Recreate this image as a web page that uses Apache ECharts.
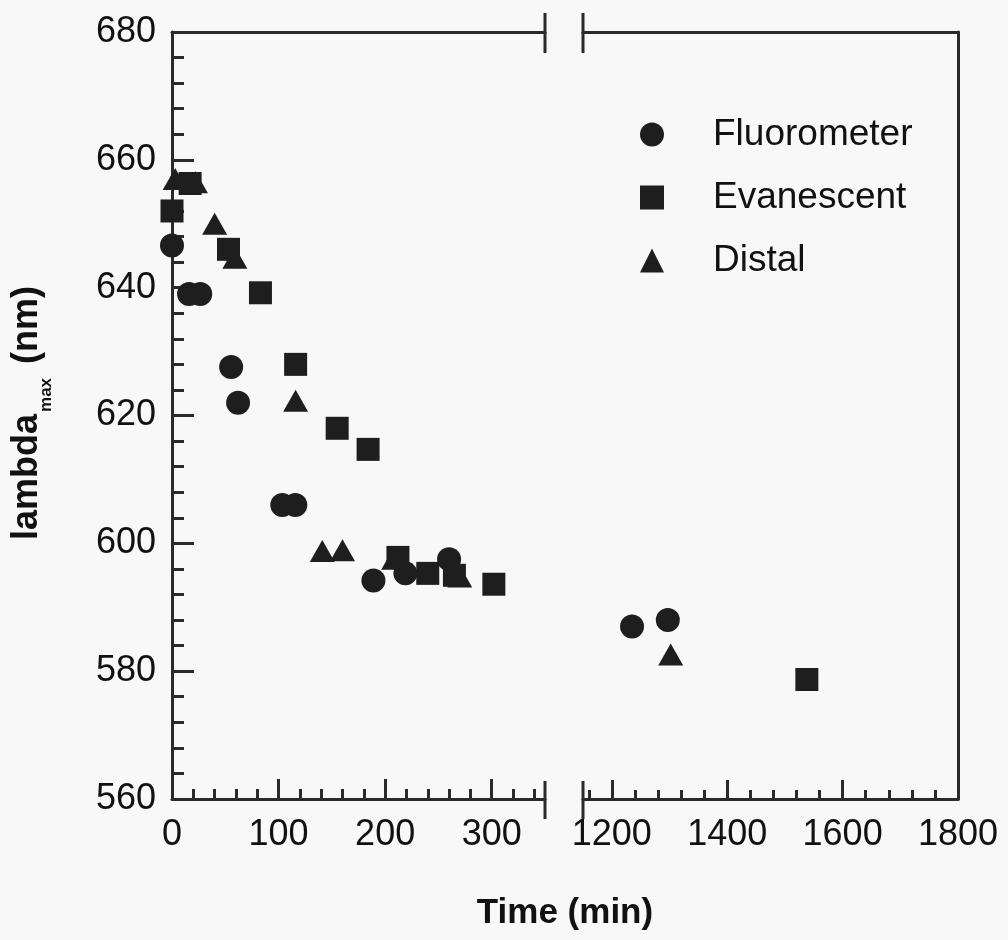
<!DOCTYPE html>
<html>
<head>
<meta charset="utf-8">
<script src="https://cdn.jsdelivr.net/npm/echarts@6/dist/echarts.min.js"></script>
<style>
html,body{margin:0;padding:0;background:#f8f8f8;}
#chart{width:1008px;height:940px;}
</style>
</head>
<body>
<div id="chart"></div>
<script>
// ---- data (Time in min, lambda_max in nm) ----
const seriesNames = ['Fluorometer', 'Evanescent', 'Distal'];
const fluorometer = [
  [0, 646.6], [16, 639], [26.5, 639], [55.5, 627.6], [62, 622],
  [103.5, 606], [115.7, 606], [189, 594.2], [219, 595.3], [260, 597.5],
  [1235, 587], [1297, 588]
];
const evanescent = [
  [0, 652], [17, 656.3], [53, 646], [83, 639.2], [116, 628],
  [155, 618], [184, 614.7], [212, 597.8], [240, 595.3], [265, 595],
  [302, 593.6], [1538, 578.7]
];
const distal = [
  [3, 657], [22, 656.5], [40, 650], [59, 644.7], [116, 622.3],
  [141, 598.8], [160, 598.9], [208, 597.6], [270, 594.8], [1302, 582.6]
];
const yTicks = [560, 580, 600, 620, 640, 660, 680];
const leftMajor = [0, 100, 200, 300];
const leftMinor = [20, 40, 60, 80, 120, 140, 160, 180, 220, 240, 260, 280, 320, 340];
const rightMajor = [1200, 1400, 1600];
const rightLabels = [1200, 1400, 1600, 1800];
const rightMinor = [1160, 1240, 1280, 1320, 1360, 1440, 1480, 1520, 1560, 1640, 1680, 1720, 1760];
const leftRange = [0, 350];
const rightRange = [1150, 1800];
const yRange = [560, 680];
const BREAK_X = 1000;

// ---- layout ----
const TOP = 32, BOTTOM = 799;
const G0L = 172, G0R = 545, G1L = 583, G1R = 958;
const INK = '#1e1e1e';
const AX = '#2a2a2a';
const FONT = '"Liberation Sans", Arial, sans-serif';

const chart = echarts.init(document.getElementById('chart'));

const lineStyle = {color: AX, width: 3};
const plain = function (v) { return String(v); };
function xAxisBase(grid, range, pos) {
  return {
    type: 'value', gridIndex: grid, min: range[0], max: range[1], position: pos,
    splitLine: {show: false}, axisLine: {show: false, lineStyle: lineStyle},
    axisTick: {show: false}, axisLabel: {show: false}
  };
}
const xAxes = [];
// grid 0 bottom major + labels
let a = xAxisBase(0, leftRange, 'bottom');
a.axisLine.show = true;
a.axisTick = {show: true, inside: true, length: 20, lineStyle: lineStyle, customValues: leftMajor};
a.axisLabel = {show: true, customValues: leftMajor, formatter: plain, fontSize: 36, color: '#111', fontFamily: FONT, margin: 18};
xAxes.push(a);
// grid 0 minor
a = xAxisBase(0, leftRange, 'bottom');
a.axisTick = {show: true, inside: true, length: 10, lineStyle: lineStyle, customValues: leftMinor};
xAxes.push(a);
// grid 0 top border
a = xAxisBase(0, leftRange, 'top');
a.axisLine.show = true;
xAxes.push(a);
// grid 1 bottom major + labels
a = xAxisBase(1, rightRange, 'bottom');
a.axisLine.show = true;
a.axisTick = {show: true, inside: true, length: 19, lineStyle: lineStyle, customValues: rightMajor};
a.axisLabel = {show: true, customValues: rightLabels, formatter: plain, fontSize: 36, color: '#111', fontFamily: FONT, margin: 18};
xAxes.push(a);
// grid 1 minor
a = xAxisBase(1, rightRange, 'bottom');
a.axisTick = {show: true, inside: true, length: 9, lineStyle: lineStyle, customValues: rightMinor};
xAxes.push(a);
// grid 1 top border
a = xAxisBase(1, rightRange, 'top');
a.axisLine.show = true;
xAxes.push(a);

const yAxes = [
  {
    type: 'value', gridIndex: 0, min: yRange[0], max: yRange[1], interval: 20, position: 'left',
    splitLine: {show: false},
    axisLine: {show: true, lineStyle: lineStyle},
    axisTick: {show: true, inside: true, length: 22, lineStyle: lineStyle},
    minorTick: {show: true, splitNumber: 5, length: 12, lineStyle: lineStyle},
    axisLabel: {fontSize: 36, color: '#111', fontFamily: FONT, margin: 16, formatter: plain, padding: [0, 0, 10, 0]}
  },
  {
    type: 'value', gridIndex: 1, min: yRange[0], max: yRange[1], interval: 20, position: 'right',
    splitLine: {show: false},
    axisLine: {show: true, lineStyle: lineStyle},
    axisTick: {show: false}, axisLabel: {show: false}
  }
];

const symbols = {Fluorometer: ['circle', 24], Evanescent: ['rect', 23], Distal: ['triangle', [25, 22]]};
const allData = {Fluorometer: fluorometer, Evanescent: evanescent, Distal: distal};
const series = [];
seriesNames.forEach(function (name) {
  const d = allData[name];
  const left = d.filter(p => p[0] < BREAK_X);
  const right = d.filter(p => p[0] >= BREAK_X);
  [[left, 0, 0], [right, 3, 1]].forEach(function (s) {
    series.push({
      type: 'scatter', name: name, data: s[0], xAxisIndex: s[1], yAxisIndex: s[2],
      symbol: symbols[name][0], symbolSize: symbols[name][1], clip: false,
      itemStyle: {color: INK, opacity: 1}, emphasis: {disabled: true}
    });
  });
});

// break marks derived from grid layout
const brk = [];
[G0R, G1L].forEach(function (x) {
  brk.push({type: 'line', shape: {x1: x, y1: TOP - 19, x2: x, y2: TOP + 21}, style: {stroke: AX, lineWidth: 3}});
  brk.push({type: 'line', shape: {x1: x, y1: BOTTOM - 18, x2: x, y2: BOTTOM + 20}, style: {stroke: AX, lineWidth: 3}});
});

chart.setOption({
  backgroundColor: '#f8f8f8',
  animation: false,
  grid: [
    {left: G0L, top: TOP, width: G0R - G0L, height: BOTTOM - TOP},
    {left: G1L, top: TOP, width: G1R - G1L, height: BOTTOM - TOP}
  ],
  xAxis: xAxes,
  yAxis: yAxes,
  legend: {
    data: seriesNames, orient: 'vertical', left: 635, top: 111,
    itemWidth: 24, itemHeight: 24, itemGap: 26,
    textStyle: {fontSize: 37, color: '#111', fontFamily: FONT, lineHeight: 36, padding: [0, 0, 0, 44]},
    selectedMode: false
  },
  graphic: brk.concat([
    {
      type: 'text', x: (G0L + G1R) / 2, y: 913,
      style: {text: 'Time (min)', font: 'bold 35px ' + FONT, fill: '#111', textAlign: 'center', textVerticalAlign: 'middle'}
    },
    {
      type: 'text', x: 27, y: 413, rotation: Math.PI / 2,
      style: {
        text: '{a|lambda}{b|max}{a|(nm)}',
        textAlign: 'center', textVerticalAlign: 'middle', fill: '#111',
        rich: {
          a: {font: 'bold 36px ' + FONT, fill: '#111', lineHeight: 56, verticalAlign: 'middle'},
          b: {font: 'bold 17px ' + FONT, fill: '#111', lineHeight: 17, verticalAlign: 'bottom', padding: [0, 14, 0, 2]}
        }
      }
    }
  ]),
  series: series
});
</script>
</body>
</html>
